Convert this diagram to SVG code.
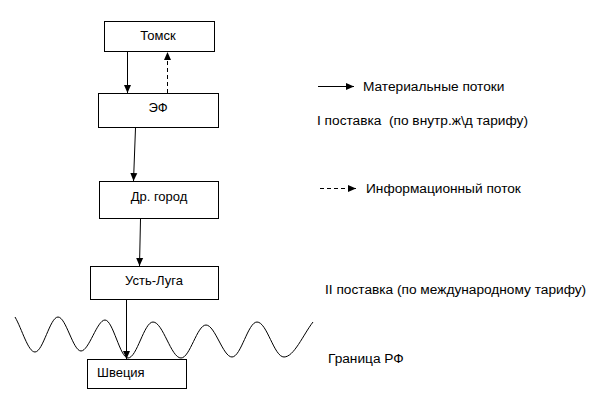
<svg xmlns="http://www.w3.org/2000/svg" width="594" height="406" viewBox="0 0 594 406">
<style>
.box{fill:#fff;stroke:#000;stroke-width:1}
.t{font-family:"Liberation Sans",Arial,sans-serif;font-size:13px;fill:#000}
.lg{font-size:13.7px}
.c{text-anchor:middle}
.ln{stroke:#000;stroke-width:1;fill:none}
.ds{stroke-dasharray:4 3}
</style>
<defs>
<marker id="ah" markerWidth="8" markerHeight="8" viewBox="0 0 8 8" refX="8" refY="4" orient="auto" markerUnits="userSpaceOnUse">
<path d="M0,0.5 L8,4 L0,7.5 Z" fill="#000"/>
</marker>
</defs>
<rect width="594" height="406" fill="#fff"/>
<path class="ln" d="M15,317 C22,329 28,352 35,352 C43,352 50,317 58,317 C66,317 73,351 81,351 C89,351 97,320 105,320 C113,320 120,358 128,358 C137,358 144,322 153,322 C163,322 171,358 181,358 C190,358 197,325 206,325 C215,325 223,357 232,357 C241,357 248,322 257,322 C267,322 274,357 284,357 C294,357 303,335 313,322"/>
<g id="tomsk"><rect class="box" x="104.5" y="21.5" width="110" height="30"/><text class="t c" x="158" y="40">Томск</text></g>
<g id="ef"><rect class="box" x="98.5" y="93.5" width="120" height="34"/><text class="t c" x="158" y="112">ЭФ</text></g>
<g id="drgorod"><rect class="box" x="99.5" y="181.5" width="119" height="37"/><text class="t c" x="159" y="201">Др. город</text></g>
<g id="ustluga"><rect class="box" x="90.5" y="266.5" width="128" height="33"/><text class="t c" x="154" y="285">Усть-Луга</text></g>
<g id="shvecia"><rect class="box" x="87.5" y="359.5" width="99" height="29"/><text class="t" x="97" y="377">Швеция</text></g>
<g id="connectors">
<line class="ln" x1="127.5" y1="52" x2="127.5" y2="93" marker-end="url(#ah)"/>
<line class="ln ds" x1="167.5" y1="93" x2="167.5" y2="52" marker-end="url(#ah)"/>
<line class="ln" x1="135.5" y1="128" x2="133.5" y2="181" marker-end="url(#ah)"/>
<line class="ln" x1="140.5" y1="219" x2="139.5" y2="266" marker-end="url(#ah)"/>
<line class="ln" x1="126.5" y1="300" x2="126.5" y2="359" marker-end="url(#ah)"/>
<line class="ln" x1="318" y1="86.5" x2="354" y2="86.5" marker-end="url(#ah)"/>
<line class="ln ds" x1="320" y1="188.5" x2="356" y2="188.5" marker-end="url(#ah)"/>
</g>
<text class="t lg" x="363" y="91">Материальные потоки</text>
<text class="t lg" x="317" y="125" style="white-space:pre">I поставка  (по внутр.ж\д тарифу)</text>
<text class="t lg" x="366" y="193">Информационный поток</text>
<text class="t lg" x="325" y="294">II поставка (по международному тарифу)</text>
<text class="t lg" x="328" y="363">Граница РФ</text>
</svg>
